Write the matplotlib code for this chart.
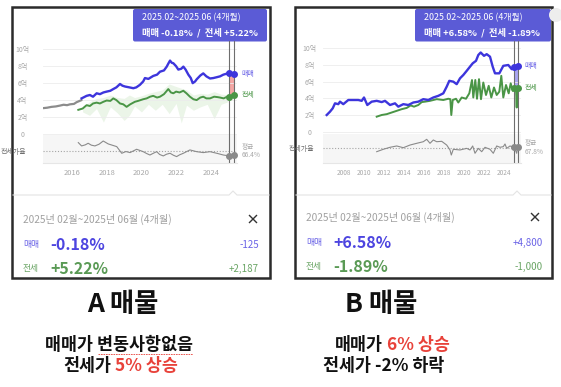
import matplotlib
matplotlib.use("Agg")
import matplotlib.pyplot as plt
import numpy as np
from matplotlib.patches import FancyBboxPatch, Rectangle, Circle

plt.rcParams["font.family"] = ["Noto Sans CJK KR", "DejaVu Sans"]

W, H = 561, 387

# ---- data (values in 억 원, ratio in %) ----
Y_TICKS = [0, 2, 4, 6, 8, 10]
Y_LABELS = ["0", "2억", "4억", "6억", "8억", "10억"]

A_YEAR_TICKS = [2016, 2018, 2020, 2022, 2024]
A_PRE_YEARS = [2014.32, 2014.55, 2014.8, 2015.05, 2015.29, 2015.5, 2015.7, 2015.87, 2016.1, 2016.25, 2016.54]
A_PRE_SALE = [3.05, 3.1, 3.2, 3.25, 3.35, 3.45, 3.4, 3.5, 3.55, 3.75, 4.0]
A_SALE_YEARS = [2016.54, 2016.83, 2017.02, 2017.2, 2017.41, 2017.6, 2017.8, 2017.99, 2018.2, 2018.37,
                2018.55, 2018.76, 2018.9, 2019.05, 2019.3, 2019.53, 2019.7, 2019.91, 2020.1, 2020.2,
                2020.4, 2020.68, 2020.9, 2021.07, 2021.3, 2021.46, 2021.55, 2021.65, 2021.75, 2021.84,
                2022.0, 2022.13, 2022.3, 2022.42, 2022.55, 2022.71, 2022.85, 2022.96, 2023.1, 2023.19,
                2023.4, 2023.57, 2023.75, 2023.96, 2024.15, 2024.35, 2024.54, 2024.73, 2024.9, 2025.07,
                2025.2, 2025.37]
A_SALE = [4.2, 4.5, 4.6, 4.4, 4.8, 4.7, 4.9, 5.0, 5.1, 5.3,
          5.5, 5.9, 5.7, 5.6, 5.5, 5.4, 5.5, 5.8, 6.2, 6.6,
          6.5, 6.85, 7.0, 7.35, 7.5, 7.95, 8.3, 8.66, 8.4, 8.35,
          8.0, 7.6, 7.7, 7.95, 7.6, 7.0, 6.6, 6.0, 6.2, 6.45,
          6.9, 7.15, 6.8, 6.55, 6.6, 6.7, 6.8, 7.0, 7.1, 7.15,
          7.2, 7.1]
A_JEONSE_YEARS = [2016.35, 2016.6, 2016.83, 2017.02, 2017.2, 2017.41, 2017.6, 2017.8, 2017.99, 2018.2,
                  2018.37, 2018.55, 2018.76, 2018.95, 2019.14, 2019.35, 2019.62, 2019.8, 2020.1, 2020.3,
                  2020.5, 2020.68, 2020.9, 2021.07, 2021.3, 2021.55, 2021.7, 2021.84, 2022.0, 2022.2,
                  2022.42, 2022.6, 2022.8, 2023.0, 2023.19, 2023.4, 2023.57, 2023.75, 2023.96, 2024.2,
                  2024.4, 2024.54, 2024.75, 2024.9, 2025.07, 2025.2, 2025.37]
A_JEONSE = [2.85, 3.0, 3.4, 3.3, 3.6, 3.7, 3.6, 3.8, 3.95, 3.9,
            4.2, 4.0, 3.6, 3.5, 3.2, 3.5, 3.8, 3.9, 4.1, 4.2,
            4.4, 4.5, 4.3, 4.4, 4.7, 5.3, 4.9, 4.8, 5.0, 4.9,
            5.1, 4.8, 4.4, 4.1, 4.0, 4.3, 4.4, 4.2, 4.2, 4.4,
            4.35, 4.3, 4.2, 4.35, 4.4, 4.5, 4.6]
A_BAND_YEARS = [2016.6, 2017.0, 2017.4, 2017.8, 2018.2, 2018.6, 2019.0, 2019.3, 2019.6, 2020.0, 2020.4, 2020.8,
                2021.2, 2021.6, 2022.0, 2022.3, 2022.6, 2023.0, 2023.4, 2023.8, 2024.2, 2024.6, 2025.0]
A_BAND_LOW = [2.6, 2.2, 3.0, 1.4, 3.2, 2.5, 1.6, 2.2, 3.3, 2.6, 3.5, 2.8,
              3.5, 2.4, 3.6, 1.3, 3.4, 2.8, 3.2, 3.5, 1.8, 3.5, 3.8]
A_BAND_HIGH = [3.2, 3.8, 4.2, 4.3, 4.6, 4.3, 4.2, 4.6, 4.3, 4.5, 4.8, 5.0,
               5.2, 5.9, 5.6, 5.4, 5.2, 4.6, 4.8, 4.7, 5.0, 4.7, 4.6]
A_RATIO_YEARS = [2016.35, 2016.54, 2016.75, 2016.92, 2017.1, 2017.31, 2017.55, 2017.79, 2018.08, 2018.3,
                 2018.57, 2018.86, 2019.1, 2019.34, 2019.72, 2020.1, 2020.3, 2020.49, 2020.7, 2020.88,
                 2021.05, 2021.26, 2021.45, 2021.65, 2021.85, 2022.03, 2022.2, 2022.42, 2022.8, 2023.19,
                 2023.57, 2023.96, 2024.35, 2024.73, 2025.07, 2025.37]
A_RATIO = [72.7, 70.2, 71.0, 72.2, 70.8, 70.2, 71.5, 73.9, 71.7, 70.8,
           69.7, 64.7, 66.0, 65.2, 67.7, 65.9, 64.5, 63.4, 64.8, 65.9,
           63.8, 62.7, 64.0, 64.7, 63.2, 62.2, 63.5, 64.7, 67.2, 65.9,
           65.2, 65.9, 64.7, 63.4, 62.7, 63.4]
A_RATIO_AVG = 66.4
A_PERIOD = [2025.07, 2025.37]

B_YEAR_TICKS = [2008, 2010, 2012, 2014, 2016, 2018, 2020, 2022, 2024]
B_SALE_YEARS = [2006.27, 2006.6, 2006.87, 2007.1, 2007.43, 2007.6, 2007.93, 2008.43, 2008.93, 2009.43,
                2009.77, 2010.0, 2010.33, 2010.77, 2011.27, 2011.77, 2012.1, 2012.6, 2013.1, 2013.43,
                2013.93, 2014.43, 2014.93, 2015.43, 2015.93, 2016.43, 2016.93, 2017.43, 2017.93, 2018.27,
                2018.53, 2018.93, 2019.27, 2019.6, 2019.93, 2020.27, 2020.6, 2020.87, 2021.2, 2021.43,
                2021.67, 2022.0, 2022.27, 2022.6, 2022.87, 2023.1, 2023.53, 2023.93, 2024.43, 2024.77,
                2025.03, 2025.37]
B_SALE = [2.0, 2.4, 2.8, 3.4, 3.3, 3.6, 3.3, 3.8, 3.8, 3.8,
          3.7, 4.1, 3.2, 3.6, 3.7, 3.55, 3.7, 3.2, 3.4, 3.0,
          3.3, 3.2, 3.5, 3.6, 3.9, 3.8, 4.1, 4.3, 4.6, 5.4,
          6.1, 6.0, 5.7, 6.4, 6.8, 7.3, 7.8, 8.2, 8.5, 9.2,
          9.5, 9.1, 9.3, 9.0, 7.8, 7.0, 7.0, 7.9, 8.0, 7.5,
          7.7, 7.9]
B_JEONSE_YEARS = [2011.27, 2011.77, 2012.27, 2012.77, 2013.27, 2013.77, 2014.27, 2014.67, 2015.0, 2015.43,
                  2015.77, 2016.1, 2016.6, 2017.27, 2017.93, 2018.43, 2018.63, 2018.73, 2018.87, 2019.2,
                  2019.43, 2019.77, 2020.2, 2020.53, 2020.8, 2020.93, 2021.13, 2021.3, 2021.5, 2021.7,
                  2021.93, 2022.2, 2022.47, 2022.73, 2023.0, 2023.27, 2023.53, 2023.73, 2023.93, 2024.2,
                  2024.47, 2024.67, 2024.87, 2025.03, 2025.2, 2025.27, 2025.32, 2025.37]
B_JEONSE = [1.8, 2.0, 2.1, 2.3, 2.5, 2.7, 2.85, 3.15, 3.0, 3.2,
            3.55, 3.6, 3.7, 3.9, 3.8, 3.95, 3.9, 2.0, 3.8, 3.95,
            3.5, 4.1, 3.95, 4.6, 6.2, 4.1, 6.2, 3.95, 6.3, 3.9,
            5.9, 4.4, 5.5, 4.1, 5.3, 4.4, 4.8, 6.7, 4.1, 5.6,
            4.6, 5.8, 4.9, 5.2, 5.1, 2.9, 5.2, 5.2]
B_RATIO_YEARS = [2011.27, 2011.93, 2012.6, 2013.27, 2013.93, 2014.6, 2015.27, 2015.93, 2016.27, 2016.6,
                 2016.93, 2017.27, 2017.77, 2018.27, 2018.6, 2018.73, 2018.93, 2019.6, 2020.27, 2020.6,
                 2020.87, 2021.1, 2021.43, 2021.77, 2022.1, 2022.6, 2022.93, 2023.27, 2023.6, 2023.93,
                 2024.1, 2024.27, 2024.6, 2024.93, 2025.03, 2025.27, 2025.37]
B_RATIO = [64.8, 66.6, 68.1, 69.1, 67.8, 69.8, 71.1, 72.3, 74.1, 71.1,
           73.6, 72.3, 72.6, 69.8, 66.1, 62.3, 66.6, 66.1, 67.3, 66.1,
           69.1, 63.6, 67.3, 64.8, 68.1, 66.6, 63.6, 69.1, 68.1, 68.6,
           70.6, 67.3, 69.1, 68.1, 68.1, 63.6, 68.1]
B_RATIO_AVG = 67.8
B_PERIOD = [2025.03, 2025.37]

PERIOD_TEXT = "2025.02~2025.06 (4개월)"
CARD_TEXT = "2025년 02월~2025년 06월 (4개월)"
A_CHANGE = ["-0.18%", "+5.22%"]
A_DIFF = ["-125", "+2,187"]
B_CHANGE = ["+6.58%", "-1.89%"]
B_DIFF = ["+4,800", "-1,000"]

BLUE = "#3d35dc"
GREEN = "#4a9546"
GREY = "#8c8c8c"
TIP = "#5b5bd6"
LABEL = "#a8a8a8"
RED = "#e8423a"


def place(fig, x0, y0, x1, y1, z=2):
    return fig.add_axes([x0 / W, 1 - y1 / H, (x1 - x0) / W, (y1 - y0) / H], zorder=z)


def draw_chart(fig, px, main_y, ratio_y, xlim, ylim, rlim, years, sale, jeonse, ratio, avg, period,
               span_color, ypad, xfont, pre=None, band=None):
    ax = place(fig, px[0], main_y[0], px[1], main_y[1])
    ax.set_facecolor("none")
    ax.set_xlim(xlim)
    ax.set_ylim(ylim)
    ax.set_xticks([])
    ax.set_yticks(Y_TICKS, Y_LABELS)
    ax.tick_params(axis="y", length=0, pad=ypad, labelsize=5.0, labelcolor=LABEL)
    for label in ax.get_yticklabels():
        label.set_horizontalalignment("center")
    for spine in ax.spines.values():
        spine.set_visible(False)
    ax.grid(axis="y", color="#ececec", lw=0.6)

    sale_years, sale_vals = years[0], sale
    jeonse_years, jeonse_vals = years[1], jeonse
    if band is not None:
        ax.fill_between(band[0], band[1], band[2], color="#ebf5e8", lw=0)
    if pre is not None:
        ax.plot(pre[0], pre[1], color=GREY, lw=1.6, solid_capstyle="round")
    ax.plot(jeonse_years, jeonse_vals, color=GREEN, lw=1.4)
    ax.plot(sale_years, sale_vals, color=BLUE, lw=1.7)

    s_at = np.interp(period, sale_years, sale_vals)
    j_at = np.interp(period, jeonse_years, jeonse_vals)
    ax.fill_between(period, j_at, s_at, color=span_color, lw=0)
    for x in period:
        ax.axvline(x, ymin=0, ymax=1.04, color="#6e6e6e", lw=0.8, clip_on=False)
    ax.plot(period, s_at, "o", ms=4, color=BLUE, clip_on=False, zorder=5)
    ax.plot(period, j_at, "o", ms=4, color=GREEN, clip_on=False, zorder=5)
    ax.annotate("매매", (period[1], s_at[1]), xytext=(5, 0), textcoords="offset points",
                va="center", fontsize=5.0, color="#6a63e6", annotation_clip=False)
    ax.annotate("전세", (period[1], j_at[1]), xytext=(5, 0), textcoords="offset points",
                va="center", fontsize=5.0, color=GREEN, annotation_clip=False)

    rx = place(fig, px[0], ratio_y[0], px[1], ratio_y[1])
    rx.set_facecolor("#f6f6f6")
    rx.set_xlim(xlim)
    rx.set_ylim(rlim)
    for spine in rx.spines.values():
        spine.set_visible(False)
    rx.spines["bottom"].set_visible(True)
    rx.spines["bottom"].set_color("#e6e6e6")
    rx.axhline(avg, color="#a5a5a5", lw=0.8, ls=(0, (1, 1.6)))
    rx.plot(ratio[0], ratio[1], color="#8a8a8a", lw=0.8)
    r_at = np.interp(period, ratio[0], ratio[1])
    rx.plot(period, r_at, "o", ms=4, color="#8a8a8a", clip_on=False, zorder=5)
    for x in period:
        rx.axvline(x, color="#6e6e6e", lw=0.8)
    rx.set_yticks([avg], ["전세가율"])
    rx.tick_params(axis="y", length=0, pad=ypad - 3, labelsize=5.0, labelcolor="#6f6f6f")
    rx.set_xticks(xfont[0], [str(y) for y in xfont[0]])
    rx.tick_params(axis="x", length=0, pad=4.5, labelsize=xfont[1], labelcolor=LABEL)
    rx.annotate("평균\n%.1f%%" % avg, (period[1], avg), xytext=(5, 0), textcoords="offset points",
                va="center", fontsize=4.8, color=LABEL, linespacing=1.1, annotation_clip=False)
    return ax, rx


def draw_frame(bg, x0, x1, tip, caret_x, close_xy, card, change, diff, right_x, pct_x, rows_y):
    bg.add_patch(Rectangle((x0, 7), x1 - x0, 271, fill=False, ec="#2b2b2b", lw=1.8))
    bg.add_patch(FancyBboxPatch((tip[0], 9), tip[1] - tip[0], 32.5, boxstyle="round,pad=0,rounding_size=2",
                                fc=TIP, ec="none", zorder=3))
    bg.text(tip[2], 18, PERIOD_TEXT, color="white", fontsize=6.4, va="center", zorder=4)
    bg.text(tip[2], 33, tip[3], color="white", fontsize=6.7, fontweight="bold", va="center", zorder=4)
    bg.plot([x0 + 1, caret_x - 4, caret_x, caret_x + 4, x1 - 1], [195, 195, 191, 195, 195],
            color="#e4e4e4", lw=0.8)
    bg.text(card[0], card[1], CARD_TEXT, color="#a0a0a0", fontsize=7.3, va="center")
    cx, cy = close_xy
    bg.plot([cx - 3.5, cx + 3.5], [cy - 3.5, cy + 3.5], color="#333333", lw=1.0)
    bg.plot([cx - 3.5, cx + 3.5], [cy + 3.5, cy - 3.5], color="#333333", lw=1.0)
    colors = [("#6a63e6", "#4d45e0"), ("#6aa565", "#5a9a55")]
    for i, name in enumerate(["매매", "전세"]):
        bg.text(card[0], rows_y[i], name, color=colors[i][0], fontsize=6.3, va="center")
        bg.text(pct_x, rows_y[i], change[i], color=colors[i][1], fontsize=11.5, fontweight="bold", va="center")
        bg.text(right_x, rows_y[i], diff[i], color=colors[i][0], fontsize=7.0, ha="right", va="center")


def main():
    fig = plt.figure(figsize=(W / 100, H / 100), dpi=100)
    bg = fig.add_axes([0, 0, 1, 1], zorder=0)
    bg.set_xlim(0, W)
    bg.set_ylim(H, 0)
    bg.axis("off")

    # panel A
    draw_frame(bg, 12, 270, (133, 267, 142, "매매 -0.18%  /  전세 +5.22%"), 233, (253, 219),
               (23, 219), A_CHANGE, A_DIFF, 259, 50, (245, 269))
    draw_chart(fig, (43, 237), (45, 135), (135, 163), (2014.31, 2025.52), (-0.12, 10.5), (57.4, 78.4),
               (A_SALE_YEARS, A_JEONSE_YEARS), A_SALE, A_JEONSE, (A_RATIO_YEARS, A_RATIO), A_RATIO_AVG,
               A_PERIOD, "#f4a7a4", 14.8, (A_YEAR_TICKS, 5.4), pre=(A_PRE_YEARS, A_PRE_SALE),
               band=(A_BAND_YEARS, A_BAND_LOW, A_BAND_HIGH))

    # panel B
    draw_frame(bg, 295, 552, (415, 551, 424, "매매 +6.58%  /  전세 -1.89%"), 517, (535, 217),
               (306, 217), B_CHANGE, B_DIFF, 543, 333, (243, 267))
    draw_chart(fig, (323, 521), (45, 134), (134, 163), (2005.9, 2025.7), (-0.28, 10.4), (56.3, 78.1),
               (B_SALE_YEARS, B_JEONSE_YEARS), B_SALE, B_JEONSE, (B_RATIO_YEARS, B_RATIO), B_RATIO_AVG,
               B_PERIOD, "#aaa6f2", 9.4, (B_YEAR_TICKS, 4.7))
    bg.add_patch(Circle((556, 15), 7, fc="#ededed", ec="none", zorder=5))

    # captions under the panels
    bg.text(122.5, 305, "A 매물", fontsize=19, fontweight="bold", ha="center", va="center", color="#111111")
    bg.text(119, 345, "매매가 변동사항없음", fontsize=12.5, fontweight="bold", ha="center", va="center",
            color="#111111")
    bg.plot([98, 193], [354, 354], color=RED, lw=0.6, ls=(0, (2, 1)))
    bg.text(111, 366, "전세가", fontsize=12.5, fontweight="bold", ha="right", va="center", color="#111111")
    bg.text(115, 366, "5% 상승", fontsize=12.5, fontweight="bold", ha="left", va="center", color=RED)

    bg.text(381, 305, "B 매물", fontsize=19, fontweight="bold", ha="center", va="center", color="#111111")
    bg.text(383, 345, "매매가", fontsize=12.5, fontweight="bold", ha="right", va="center", color="#111111")
    bg.text(387, 345, "6% 상승", fontsize=12.5, fontweight="bold", ha="left", va="center", color=RED)
    bg.text(384, 366, "전세가 -2% 하락", fontsize=12.5, fontweight="bold", ha="center", va="center",
            color="#111111")

    fig.savefig("out.png", dpi=100)
    plt.close(fig)


if __name__ == "__main__":
    main()
